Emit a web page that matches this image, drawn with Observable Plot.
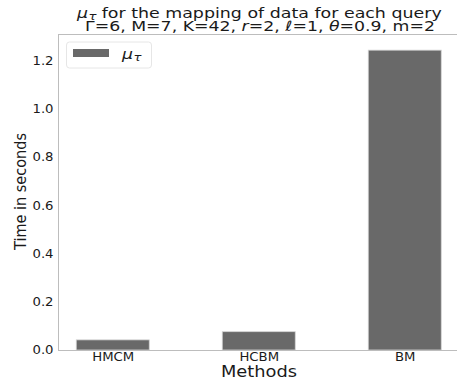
<!DOCTYPE html>
<html>
<head>
<meta charset="utf-8">
<script src="https://cdn.jsdelivr.net/npm/d3@7"></script>
<script src="https://cdn.jsdelivr.net/npm/@observablehq/plot@0.6"></script>
<style>
  html, body { margin: 0; padding: 0; background: #fff; }
  #chart svg { display: block; }
</style>
</head>
<body>
<div id="chart"></div>
<script>
// Mean mapping time per query for each method
const methods = ["HMCM", "HCBM", "BM"];
const times = [0.042, 0.076, 1.244];
const yTicks = [0.0, 0.2, 0.4, 0.6, 0.8, 1.0, 1.2];

const rows = methods.map((m, i) => ({method: m, idx: i, time: times[i]}));

const W = 457, H = 385;
const barHalf = 0.25;
const font = "DejaVu Sans, sans-serif";
const ink = "#1a1a1a";

const plot = Plot.plot({
  width: W,
  height: H,
  marginLeft: 58,
  marginRight: 0,
  marginTop: 34,
  marginBottom: 35,
  style: {fontFamily: font, background: "#fff", overflow: "visible"},
  x: {domain: [-0.375, 2.375], range: [58, 459.5]},
  y: {domain: [0, 1.311]},
  marks: [
    Plot.rect(rows, {
      x1: d => d.idx - barHalf,
      x2: d => d.idx + barHalf,
      y1: 0,
      y2: "time",
      fill: "#696969",
      stroke: "#d4d4d4",
      strokeWidth: 0.8
    }),
    Plot.axisY({
      ticks: yTicks,
      tickFormat: d => d.toFixed(1),
      tickSize: 0,
      tickPadding: 5,
      fontSize: 11.5,
      fill: ink,
      label: null
    }),
    Plot.axisX({
      ticks: methods.map((_, i) => i),
      tickFormat: i => methods[i],
      tickSize: 0,
      tickPadding: 2.5,
      fontSize: 11.5,
      fill: ink,
      label: null
    }),
    // spines: left, bottom, top
    Plot.ruleX([-0.375], {stroke: "#bdbdbd", strokeWidth: 1}),
    Plot.ruleY([0], {stroke: "#bdbdbd", strokeWidth: 1}),
    Plot.ruleY([1.311], {stroke: "#bdbdbd", strokeWidth: 1})
  ]
});

document.getElementById("chart").appendChild(plot);

const svg = d3.select(plot);

// widen the tick labels slightly, as in the figure's wide aspect
svg.selectAll("[aria-label$='tick label'] text").each(function () {
  const len = this.getComputedTextLength();
  if (len > 0) {
    this.setAttribute("textLength", (len * 1.15).toFixed(2));
    this.setAttribute("lengthAdjust", "spacingAndGlyphs");
  }
});

// a left-anchored text stretched to an exact width
function fitted(x, y, size, width, str, italic) {
  return svg.append("text")
    .attr("x", x).attr("y", y)
    .attr("text-anchor", "start")
    .attr("font-family", font).attr("font-size", size).attr("fill", ink)
    .attr("font-style", italic ? "italic" : null)
    .attr("textLength", width).attr("lengthAdjust", "spacingAndGlyphs")
    .text(str);
}

const cx = 259;

// title, first line: μτ then the words
fitted(77, 18, 14.5, 11, "μ", true);
fitted(88.5, 20, 10.5, 8, "τ", true);
fitted(101.7, 18, 14.2, 340, "for the mapping of data for each query", false);

// title, second line with italic symbols
const t2 = svg.append("text")
  .attr("x", cx + 1).attr("y", 31)
  .attr("text-anchor", "middle")
  .attr("font-family", font).attr("font-size", 14).attr("fill", ink)
  .attr("textLength", 350).attr("lengthAdjust", "spacingAndGlyphs");
t2.append("tspan").text("Γ=6, M=7, K=42, ");
t2.append("tspan").attr("font-style", "italic").text("r");
t2.append("tspan").text("=2, ");
t2.append("tspan").attr("font-style", "italic").text("ℓ");
t2.append("tspan").text("=1, ");
t2.append("tspan").attr("font-style", "italic").text("θ");
t2.append("tspan").text("=0.9, m=2");

svg.append("text")
  .attr("x", cx).attr("y", 377)
  .attr("text-anchor", "middle")
  .attr("font-family", font).attr("font-size", 16).attr("fill", ink)
  .attr("textLength", 76).attr("lengthAdjust", "spacingAndGlyphs")
  .text("Methods");

svg.append("text")
  .attr("transform", "translate(25.5,191.5) rotate(-90)")
  .attr("text-anchor", "middle")
  .attr("font-family", font).attr("font-size", 16.5).attr("fill", ink)
  .attr("textLength", 117).attr("lengthAdjust", "spacingAndGlyphs")
  .text("Time in seconds");

// legend
svg.append("rect")
  .attr("x", 66.5).attr("y", 42).attr("width", 85).attr("height", 26)
  .attr("rx", 3).attr("fill", "#fff").attr("stroke", "#e6e6e6");
svg.append("rect")
  .attr("x", 73).attr("y", 49).attr("width", 36).attr("height", 8)
  .attr("fill", "#696969");
fitted(122, 59, 14, 11, "μ", true);
fitted(133.5, 61, 10, 8, "τ", true);
</script>
</body>
</html>
